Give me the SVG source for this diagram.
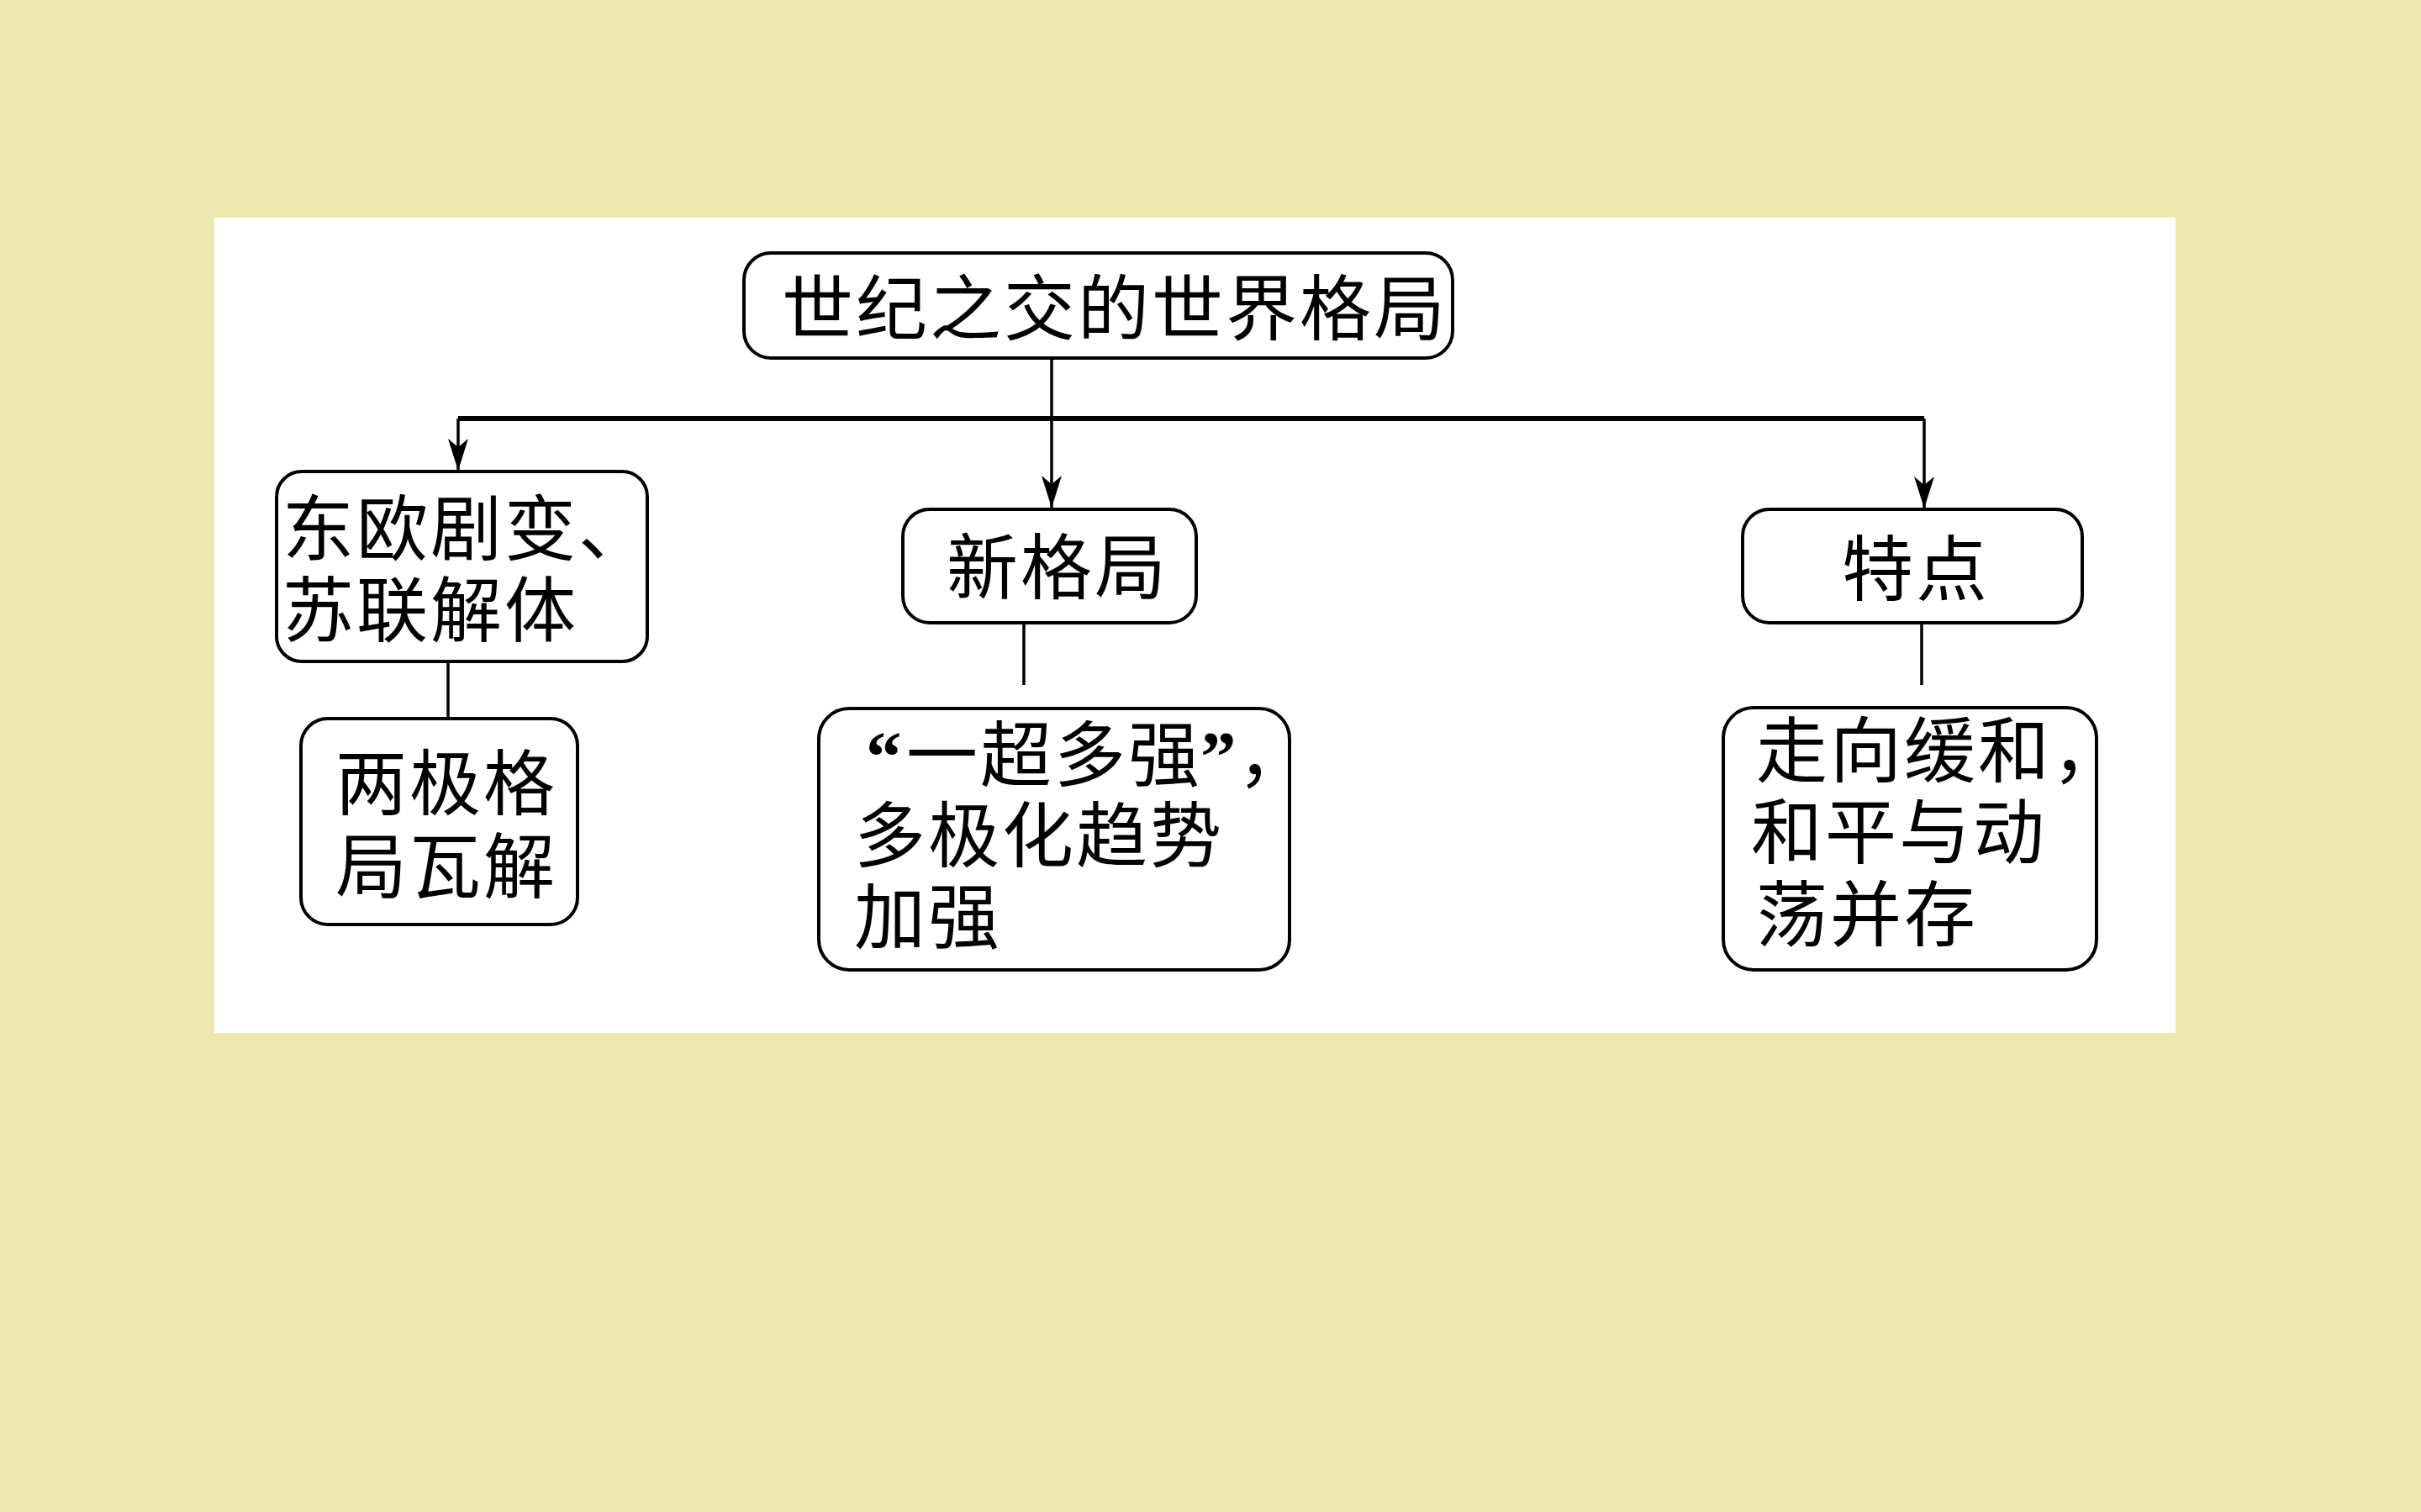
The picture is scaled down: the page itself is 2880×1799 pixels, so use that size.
<svg xmlns="http://www.w3.org/2000/svg" width="2880" height="1799" viewBox="0 0 2880 1799">
<defs>
<style>
.box{fill:#ffffff;stroke:#000000;stroke-width:4}
.t{font-family:"Noto Sans CJK SC","Noto Sans CJK TC",sans-serif;font-size:85px;letter-spacing:3px;fill:#000000}
.q{font-family:"Liberation Serif",serif;font-weight:bold;letter-spacing:0}
.c{fill:none;stroke:#000000;stroke-width:3.5}
.bar{fill:none;stroke:#000000;stroke-width:6}
</style>
<marker id="ah" markerUnits="userSpaceOnUse" markerWidth="44" markerHeight="30" viewBox="-40 -15 44 30" refX="0" refY="0" orient="auto" overflow="visible">
<path d="M0,0 L-38,-12 L-28,0 L-38,12 Z" fill="#000000"/>
</marker>
</defs>
<rect x="0" y="0" width="2880" height="1799" fill="#EEE8B0"/>
<rect x="255" y="259" width="2333" height="970" fill="#ffffff"/>
<g id="connectors">
<path class="bar" d="M545,498 H2289"/>
<path class="c" d="M1251,427 V604" marker-end="url(#ah)"/>
<path class="c" d="M545,498 V560" marker-end="url(#ah)"/>
<path class="c" d="M2289,498 V605" marker-end="url(#ah)"/>
<path class="c" d="M533,788 V855"/>
<path class="c" d="M1218,741 V815"/>
<path class="c" d="M2286,741 V815"/>
</g>
<g id="node-root">
<rect class="box" x="885" y="301" width="843" height="125" rx="32"/>
<text class="t" x="930" y="398">世纪之交的世界格局</text>
</g>
<g id="node-eastern">
<rect class="box" x="329" y="561" width="441" height="226" rx="30"/>
<text class="t"><tspan x="336" y="660">东欧剧变、</tspan><tspan x="336" y="757">苏联解体</tspan></text>
</g>
<g id="node-bipolar">
<rect class="box" x="358" y="855" width="329" height="245" rx="32"/>
<text class="t"><tspan x="399" y="963">两极格</tspan><tspan x="399" y="1062">局瓦解</tspan></text>
</g>
<g id="node-new">
<rect class="box" x="1074" y="606" width="349" height="135" rx="32"/>
<text class="t" x="1126" y="706">新格局</text>
</g>
<g id="node-multipolar">
<rect class="box" x="974" y="843" width="560" height="311" rx="36"/>
<text class="t"><tspan class="q" x="1030" y="929">“</tspan><tspan x="1078" y="929">一超多强</tspan><tspan class="q" x="1428" y="929">”</tspan><tspan x="1472" y="929">，</tspan><tspan x="1016" y="1025">多极化趋势</tspan><tspan x="1016" y="1122">加强</tspan></text>
</g>
<g id="node-feature">
<rect class="box" x="2073" y="606" width="404" height="135" rx="32"/>
<text class="t" x="2191" y="708">特点</text>
</g>
<g id="node-detente">
<rect class="box" x="2050" y="842" width="444" height="312" rx="36"/>
<text class="t"><tspan x="2089" y="924">走向缓和，</tspan><tspan x="2083" y="1021">和平与动</tspan><tspan x="2089" y="1119">荡并存</tspan></text>
</g>
</svg>
